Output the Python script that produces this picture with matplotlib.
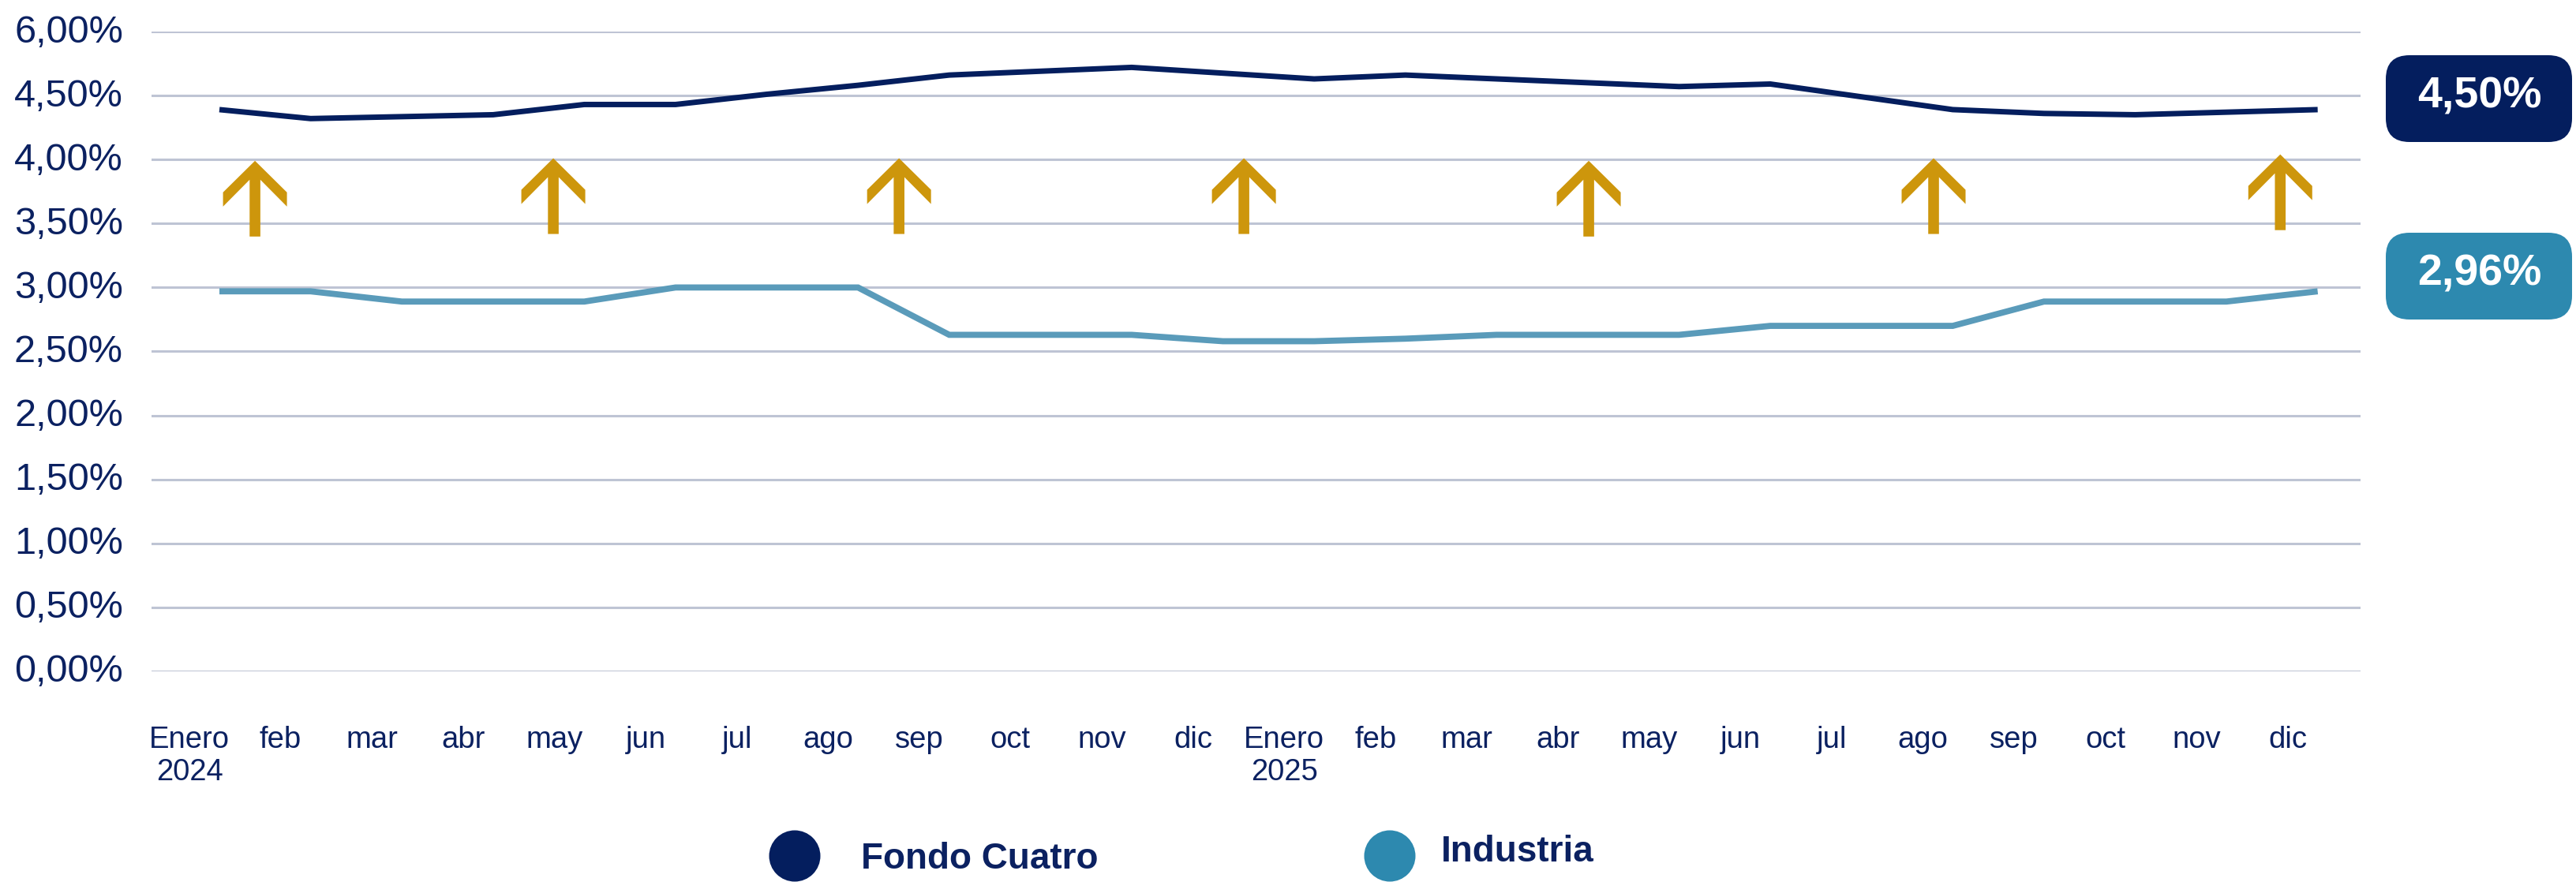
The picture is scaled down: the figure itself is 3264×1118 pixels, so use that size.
import matplotlib
matplotlib.use("Agg")
import matplotlib.pyplot as plt
import matplotlib.transforms as mtransforms
from matplotlib.patches import Polygon, FancyBboxPatch, Circle
import numpy as np

# --- data ---
months = ["Enero\n2024", "feb", "mar", "abr", "may", "jun", "jul", "ago", "sep", "oct", "nov", "dic",
          "Enero\n2025", "feb", "mar", "abr", "may", "jun", "jul", "ago", "sep", "oct", "nov", "dic"]
fondo_cuatro = [4.39, 4.32, 4.335, 4.35, 4.43, 4.43, 4.51, 4.58, 4.66, 4.69, 4.72, 4.675,
                4.63, 4.66, 4.63, 4.60, 4.57, 4.59, 4.49, 4.39, 4.36, 4.35, 4.37, 4.39]
industria = [2.97, 2.97, 2.89, 2.89, 2.89, 3.00, 3.00, 3.00, 2.63, 2.63, 2.63, 2.58,
             2.58, 2.60, 2.63, 2.63, 2.63, 2.70, 2.70, 2.70, 2.89, 2.89, 2.89, 2.97]
y_ticks = [0, 0.5, 1.0, 1.5, 2.0, 2.5, 3.0, 3.5, 4.0, 4.5, 5.0]
y_tick_labels = ["0,00%", "0,50%", "1,00%", "1,50%", "2,00%", "2,50%",
                 "3,00%", "3,50%", "4,00%", "4,50%", "6,00%"]
arrow_x = [0.39, 3.66, 7.45, 11.23, 15.01, 18.79, 22.59]
arrow_tip = [3.99, 4.01, 4.01, 4.01, 3.99, 4.01, 4.04]
series_names = ["Fondo Cuatro", "Industria"]
badge_labels = ["4,50%", "2,96%"]

NAVY = "#041E5E"
TICK = "#0B2161"
IND_LINE = "#5A9BBA"
IND_BADGE = "#2D89AF"
GOLD = "#CD960C"
GRID = "#BEC4D4"

fig = plt.figure(figsize=(32.64, 11.18), dpi=100)
ax = fig.add_axes([192 / 3264, 1 - 851 / 1118, (2991 - 192) / 3264, (851 - 40) / 1118])

x = np.arange(len(months))
ax.plot(x, industria, color=IND_LINE, lw=5.6, solid_capstyle="butt", solid_joinstyle="miter", zorder=3)
ax.plot(x, fondo_cuatro, color=NAVY, lw=5.0, solid_capstyle="butt", solid_joinstyle="miter", zorder=3)

ax.set_xlim(-0.744, 23.47)
ax.set_ylim(0, 5)
ax.set_yticks(y_ticks)
ax.set_yticklabels(y_tick_labels)
ax.set_xticks(x)
ax.set_xticklabels(months)
ax.grid(axis="y", color=GRID, lw=2.2, zorder=1)
ax.set_axisbelow(True)
for s in ax.spines.values():
    s.set_visible(False)
ax.tick_params(length=0)
ax.tick_params(axis="y", pad=26, labelsize=35, labelcolor=TICK)
ax.tick_params(axis="x", pad=50, labelsize=27.5, labelcolor=TICK)
for lab in ax.get_yticklabels():
    lab.set_family("Liberation Sans")
    lab.set_transform(lab.get_transform() + mtransforms.ScaledTranslation(0, 0.04, fig.dpi_scale_trans))
for lab in ax.get_xticklabels():
    lab.set_family("Liberation Sans")
    lab.set_linespacing(1.15)
    lab.set_transform(lab.get_transform() + mtransforms.ScaledTranslation(-0.38, 0, fig.dpi_scale_trans))

# gold up arrows (shape in pixels relative to the tip)
arrow_shape = np.array([(0, 0), (-40.5, -40), (-40.5, -58), (-6.8, -24), (-6.8, -96),
                        (6.8, -96), (6.8, -24), (40.5, -58), (40.5, -40)]) / 100.0
for ax_x, ax_y in zip(arrow_x, arrow_tip):
    tr = fig.dpi_scale_trans + mtransforms.ScaledTranslation(ax_x, ax_y, ax.transData)
    ax.add_patch(Polygon(arrow_shape, closed=True, facecolor=GOLD, edgecolor="none",
                         transform=tr, zorder=4, clip_on=False))

# value badges on the right
badge_colors = [NAVY, IND_BADGE]
badge_bottom = [(1118 - 180) / 100, (1118 - 405) / 100]
for lbl, col, yb in zip(badge_labels, badge_colors, badge_bottom):
    fig.patches.append(FancyBboxPatch((30.23, yb), 2.36, 1.10,
                                      boxstyle="round,pad=0,rounding_size=0.3",
                                      facecolor=col, edgecolor="none",
                                      transform=fig.dpi_scale_trans, figure=fig))
    fig.text(31.42, yb + 0.57, lbl, transform=fig.dpi_scale_trans, ha="center", va="center",
             color="white", fontsize=40, fontweight="bold", family="Liberation Sans")

# legend at the bottom
legend_colors = [NAVY, IND_BADGE]
legend_circle_x = [10.07, 17.61]
legend_text_x = [10.91, 18.26]
legend_text_y = [0.29, 0.38]
for name, col, cx, tx, ty in zip(series_names, legend_colors, legend_circle_x, legend_text_x, legend_text_y):
    fig.patches.append(Circle((cx, 0.33), 0.325, facecolor=col, edgecolor="none",
                              transform=fig.dpi_scale_trans, figure=fig))
    fig.text(tx, ty, name, transform=fig.dpi_scale_trans, ha="left", va="center",
             color=TICK, fontsize=33, fontweight="bold", family="Liberation Sans")

fig.savefig("out.png", dpi=100, facecolor="white")
